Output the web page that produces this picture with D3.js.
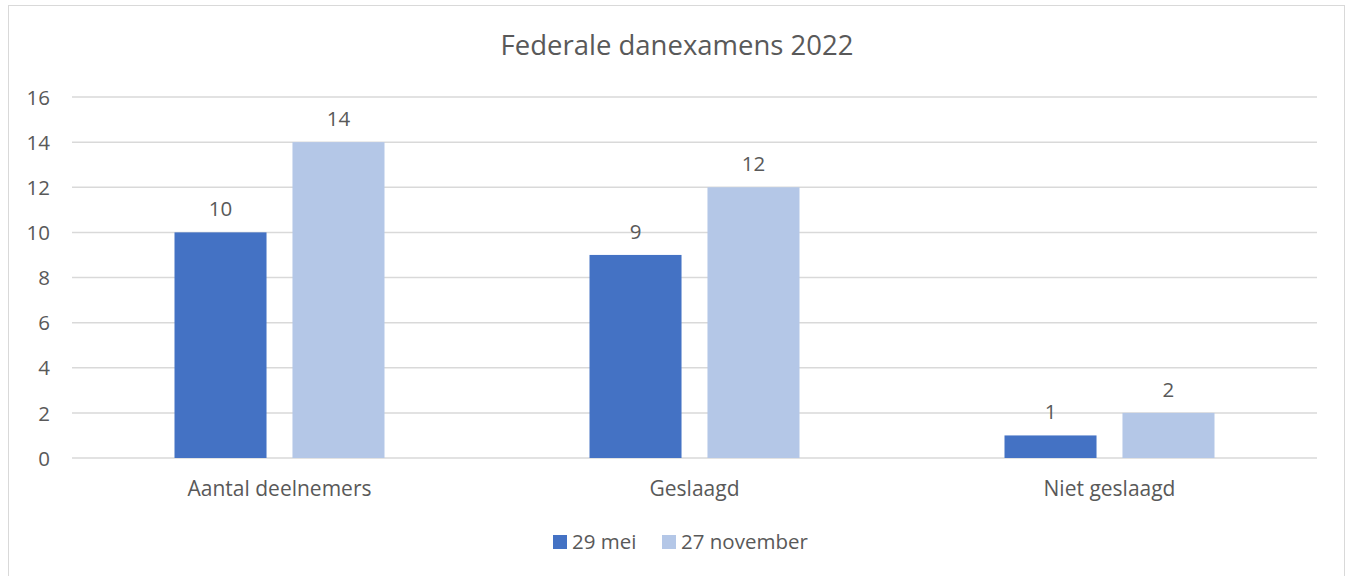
<!DOCTYPE html>
<html>
<head>
<meta charset="utf-8">
<script src="https://cdn.jsdelivr.net/npm/d3@7"></script>
<style>
  body { margin: 0; background: #fff; }
  text { font-family: "Open Sans", "Liberation Sans", sans-serif; fill: #595959; }
</style>
</head>
<body>
<div id="chart"></div>
<script>
// data
var categories = ["Aantal deelnemers", "Geslaagd", "Niet geslaagd"];
var seriesNames = ["29 mei", "27 november"];
var mei = [10, 9, 1];
var november = [14, 12, 2];
var yTicks = [0, 2, 4, 6, 8, 10, 12, 14, 16];
var colors = ["#4472c4", "#b4c7e7"];

var W = 1347, H = 576;
var margin = { top: 97, right: 30, bottom: 118, left: 72 };
var width = 1317 - margin.left, height = 458 - margin.top;

var svg = d3.select("#chart").append("svg")
  .attr("width", W).attr("height", H);

// chart border
svg.append("rect").attr("x", 8.5).attr("y", 5.5)
  .attr("width", 1336).attr("height", 580)
  .attr("fill", "none").attr("stroke", "#d9d9d9");

svg.append("text").attr("x", 677).attr("y", 55)
  .attr("text-anchor", "middle").style("font-size", "27.5px")
  .text("Federale danexamens 2022");

var g = svg.append("g").attr("transform", "translate(" + margin.left + "," + margin.top + ")");

var x0 = d3.scaleBand().domain(categories).range([0, width]);
var x1 = d3.scaleBand().domain(seriesNames)
  .range([x0.bandwidth() / 2 - 105, x0.bandwidth() / 2 + 105]).paddingInner(0.22);
var y = d3.scaleLinear().domain([0, 16]).range([height, 0]);

// gridlines
g.selectAll(".grid").data(yTicks).enter().append("line")
  .attr("x1", 0).attr("x2", width)
  .attr("y1", d => y(d)).attr("y2", d => y(d))
  .attr("stroke", "#d9d9d9").attr("stroke-width", 1.5);

// y axis labels
var yAxis = g.append("g").call(d3.axisLeft(y).tickValues(yTicks).tickSize(0).tickPadding(0));
yAxis.select(".domain").remove();
yAxis.selectAll("text").attr("x", -22).attr("dy", "0.35em")
  .style("font-size", "20.5px").style("font-family", "'Open Sans', sans-serif").attr("fill", "#595959");

// x axis labels
var xAxis = g.append("g").attr("transform", "translate(0," + height + ")")
  .call(d3.axisBottom(x0).tickSize(0).tickPadding(23));
xAxis.select(".domain").remove();
xAxis.selectAll("text").style("font-size", "21px")
  .style("font-family", "'Open Sans', sans-serif").attr("fill", "#595959");

var rows = categories.map((c, i) => ({ cat: c, vals: [mei[i], november[i]] }));

var groups = g.selectAll(".grp").data(rows).enter().append("g")
  .attr("transform", d => "translate(" + x0(d.cat) + ",0)");

groups.selectAll("rect").data(d => d.vals.map((v, j) => ({ s: seriesNames[j], v: v, j: j })))
  .enter().append("rect")
  .attr("x", d => x1(d.s))
  .attr("y", d => y(d.v))
  .attr("width", x1.bandwidth())
  .attr("height", d => height - y(d.v))
  .attr("fill", d => colors[d.j]);

groups.selectAll(".lbl").data(d => d.vals.map((v, j) => ({ s: seriesNames[j], v: v })))
  .enter().append("text")
  .attr("x", d => x1(d.s) + x1.bandwidth() / 2)
  .attr("y", d => y(d.v) - 16)
  .attr("text-anchor", "middle").style("font-size", "20.5px")
  .text(d => d.v);

// legend
var legendX = [553, 662];
var leg = svg.selectAll(".leg").data(seriesNames).enter().append("g")
  .attr("transform", (d, i) => "translate(" + legendX[i] + ",535)");
leg.append("rect").attr("width", 14).attr("height", 14).attr("fill", (d, i) => colors[i]);
leg.append("text").attr("x", 19).attr("y", 7).attr("dy", "0.35em")
  .style("font-size", "20.5px").text(d => d);
</script>
</body>
</html>
